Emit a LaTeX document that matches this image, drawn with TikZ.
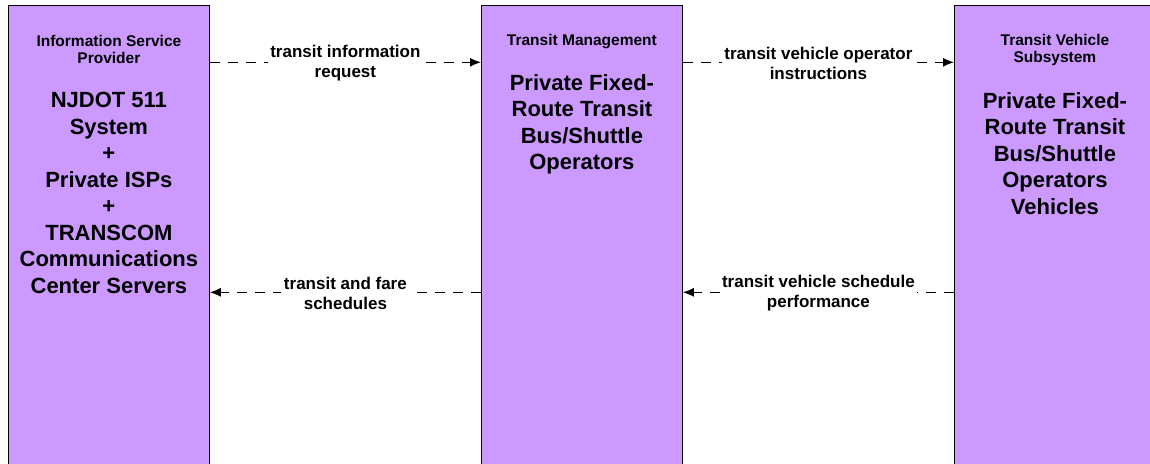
\documentclass[tikz,border=0pt]{standalone}
\usepackage{fontspec}
\setmainfont{Liberation Sans}
\usetikzlibrary{arrows.meta,positioning}
\definecolor{boxpurple}{HTML}{CC99FF}
\tikzset{
    subsys/.style={rectangle,draw=black,line width=0.8pt,fill=boxpurple,minimum width=201pt,minimum height=470pt,anchor=north west,inner sep=0pt},
    head/.style={align=center,inner sep=0pt,font=\bfseries\fontsize{15.5}{17}\selectfont},
    elem/.style={align=center,inner sep=0pt,font=\bfseries\fontsize{22}{26.5}\selectfont},
    flow/.style={-{Latex[length=11pt,width=9pt]},line width=1.2pt,dash pattern=on 10pt off 8pt},
    flowlabel/.style={fill=white,align=center,inner sep=2.5pt,font=\bfseries\fontsize{17}{20}\selectfont}
}

\begin{document}
\begin{tikzpicture}

    \useasboundingbox (0,0) rectangle (1150pt,-463pt);

    % subsystems
    \node[subsys] (isp) at (8pt,-5pt)    {};
    \node[subsys] (tm)  at (481pt,-5pt)  {};
    \node[subsys] (tvs) at (954pt,-5pt)  {};

    \node[head] (isp head) [below=30pt of isp.north] {Information Service\\Provider};
    \node[elem] (isp elem) [below=87pt of isp.north] {NJDOT 511\\System\\+\\Private ISPs\\+\\TRANSCOM\\Communications\\Center Servers};

    \node[head] (tm head)  [below=29pt of tm.north]  {Transit Management};
    \node[elem] (tm elem)  [below=69pt of tm.north]  {Private Fixed-\\Route Transit\\Bus/Shuttle\\Operators};

    \node[head] (tvs head) [below=29pt of tvs.north] {Transit Vehicle\\Subsystem};
    \node[elem] (tvs elem) [below=87pt of tvs.north] {Private Fixed-\\Route Transit\\Bus/Shuttle\\Operators\\Vehicles};

    % flows
    \draw[flow] ([yshift=-57.3pt]isp.north east) -- node[flowlabel,yshift=-1pt] {transit information\\request} ([yshift=-57.3pt]tm.north west);
    \draw[flow] ([yshift=-287.3pt]tm.north west) -- node[flowlabel,yshift=-1pt] {transit and fare\\schedules} ([yshift=-287.3pt]isp.north east);
    \draw[flow] ([yshift=-57.3pt]tm.north east) -- node[flowlabel,yshift=-1pt] {transit vehicle operator\\instructions} ([yshift=-57.3pt]tvs.north west);
    \draw[flow] ([yshift=-287.3pt]tvs.north west) -- node[flowlabel,yshift=-1pt] {transit vehicle schedule\\performance} ([yshift=-287.3pt]tm.north east);

\end{tikzpicture}
\end{document}
